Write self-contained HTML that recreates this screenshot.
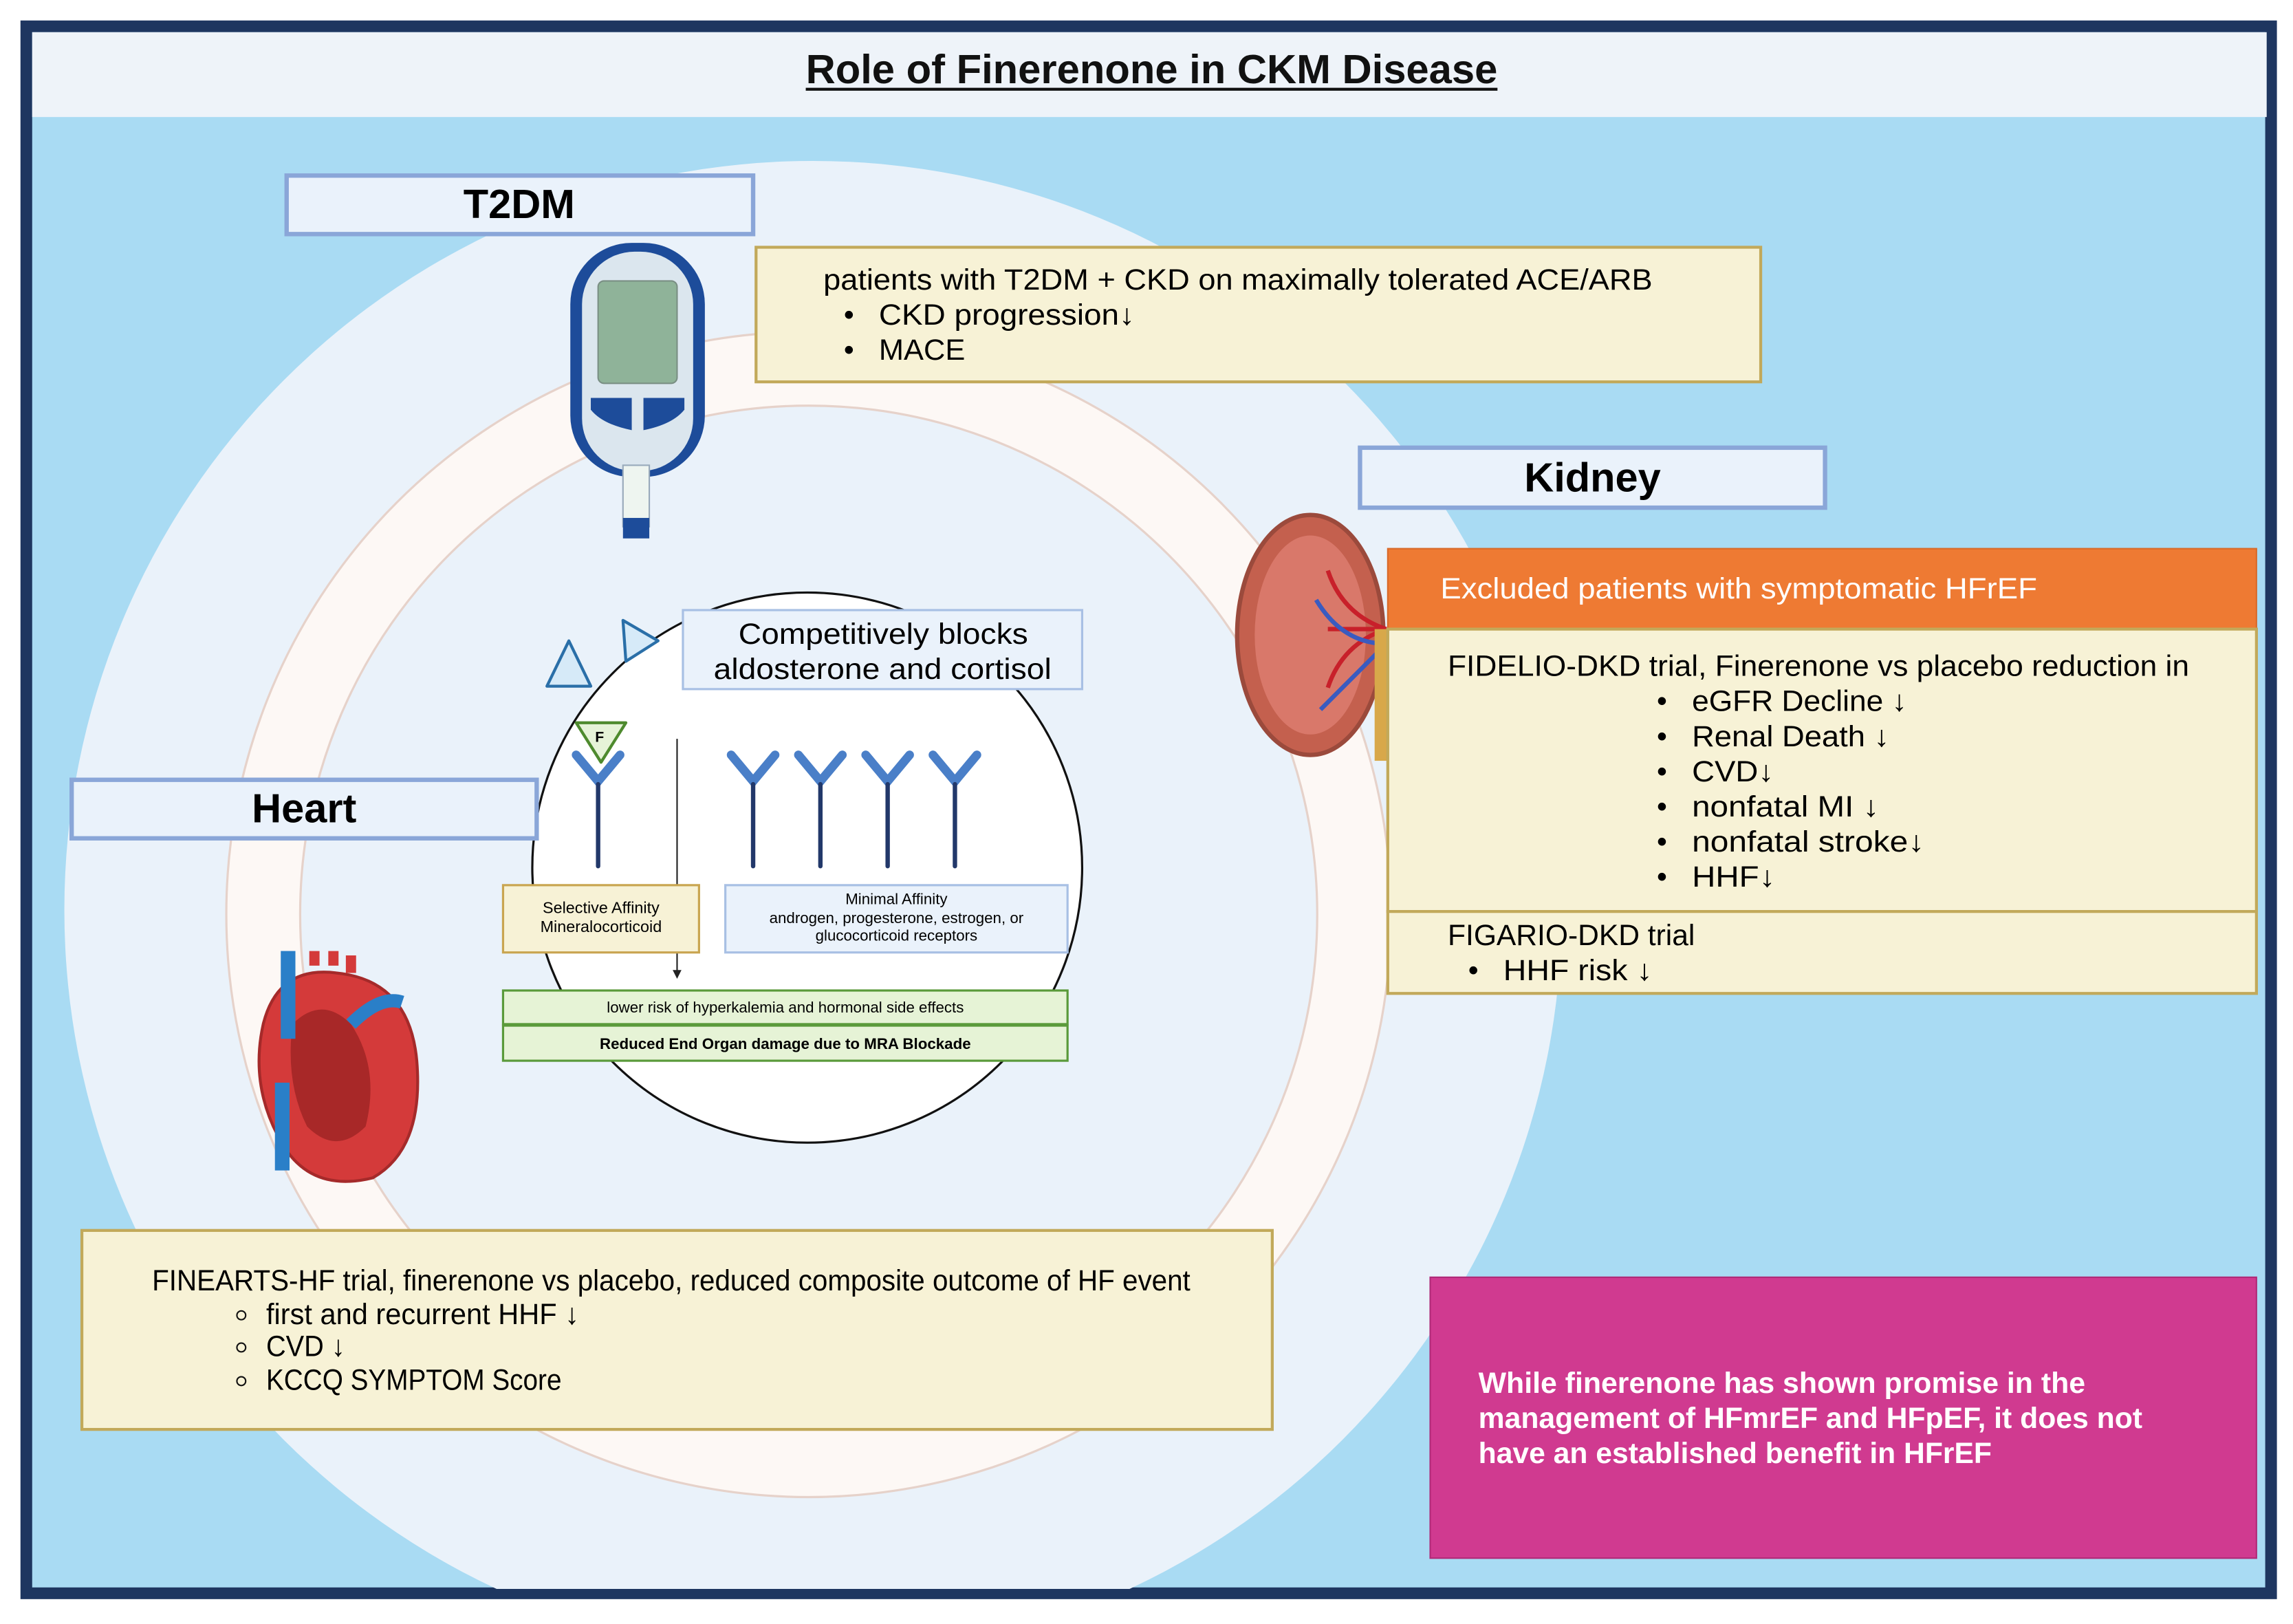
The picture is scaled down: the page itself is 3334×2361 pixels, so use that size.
<!DOCTYPE html>
<html><head><meta charset="utf-8"><style>
html,body{margin:0;padding:0;background:#fff;}
svg{display:block;}
text{font-family:"Liberation Sans",sans-serif;}
</style></head><body>
<svg width="3334" height="2361" viewBox="0 0 1568 1110" preserveAspectRatio="none" xmlns="http://www.w3.org/2000/svg">
<defs><clipPath id="bg"><rect x="22" y="80" width="1528" height="1006"/></clipPath></defs>
<rect x="0" y="0" width="1568" height="1110" fill="#fff"/>
<rect x="18" y="18" width="1535" height="1071" fill="#a9dbf3" stroke="#1e3660" stroke-width="8"/>
<rect x="22" y="22" width="1528" height="58" fill="#eef3f9"/>
<text x="551" y="57" font-size="28" font-weight="bold" fill="#111" textLength="473" lengthAdjust="spacingAndGlyphs">Role of Finerenone in CKM Disease</text>
<line x1="551" y1="61" x2="1024" y2="61" stroke="#111" stroke-width="2"/>
<g clip-path="url(#bg)">
<circle cx="556" cy="622" r="512" fill="#eaf2fa"/>
<circle cx="553" cy="625" r="373" fill="none" stroke="#e6d2ca" stroke-width="52"/>
<circle cx="553" cy="625" r="373" fill="none" stroke="#fdf8f5" stroke-width="49"/>
</g>
<circle cx="552" cy="593" r="188" fill="#fff" stroke="#111" stroke-width="1.5"/>
<!-- T2DM -->
<rect x="196" y="120" width="319" height="40" fill="#eaf2fb" stroke="#8aa6d8" stroke-width="3"/>
<text x="355" y="149" font-size="28" font-weight="bold" text-anchor="middle">T2DM</text>
<rect x="517" y="169" width="687" height="92" fill="#f7f2d6" stroke="#c2a95a" stroke-width="2"/>
<g font-size="20" lengthAdjust="spacingAndGlyphs">
<text x="563" y="198" textLength="567" lengthAdjust="spacingAndGlyphs">patients with T2DM + CKD on maximally tolerated ACE/ARB</text>
<text x="577" y="222">•</text><text x="601" y="222" textLength="175" lengthAdjust="spacingAndGlyphs">CKD progression↓</text>
<text x="577" y="246">•</text><text x="601" y="246" textLength="59" lengthAdjust="spacingAndGlyphs">MACE</text>
</g>
<!-- glucose meter -->
<rect x="390" y="166" width="92" height="160" rx="42" fill="#1d4c9a"/>
<rect x="398" y="172" width="76" height="150" rx="36" fill="#dbe6ee"/>
<rect x="409" y="192" width="54" height="70" rx="4" fill="#8fb399" stroke="#7a8f84"/>
<path d="M404 272 h28 v22 q-20 -4 -28 -14z" fill="#1d4c9a"/><path d="M440 272 h28 v8 q-8 10 -28 14z" fill="#1d4c9a"/>
<rect x="426" y="318" width="18" height="42" fill="#eef5f0" stroke="#9ab"/>
<rect x="426" y="354" width="18" height="14" fill="#1d4c9a"/>
<!-- Kidney -->
<rect x="930" y="306" width="318" height="41" fill="#eaf2fb" stroke="#8aa6d8" stroke-width="3"/>
<text x="1089" y="336" font-size="28" font-weight="bold" text-anchor="middle">Kidney</text>
<ellipse cx="896" cy="434" rx="50" ry="82" fill="#c4604e" stroke="#9b4a3c" stroke-width="3"/>
<ellipse cx="896" cy="434" rx="38" ry="68" fill="#d9786a"/>
<path d="M948 430 q-30 -10 -40 -40 M948 430 q-30 10 -40 40 M948 430 h-40" stroke="#c8202a" stroke-width="3" fill="none"/>
<path d="M948 440 q-30 0 -48 -30 M948 440 q-20 20 -45 45" stroke="#3a5bc0" stroke-width="3" fill="none"/>
<rect x="940" y="430" width="9" height="90" fill="#d8a84a"/>
<!-- Orange / FIDELIO / FIGARIO -->
<rect x="949" y="375" width="594" height="55" fill="#ee7a33" stroke="#d86a2a"/>
<text x="985" y="409" font-size="20" fill="#fff" textLength="408" lengthAdjust="spacingAndGlyphs">Excluded patients with symptomatic HFrEF</text>
<rect x="949" y="430" width="594" height="193" fill="#f7f2d6" stroke="#c2a95a" stroke-width="2"/>
<text x="990" y="462" font-size="20" textLength="507" lengthAdjust="spacingAndGlyphs">FIDELIO-DKD trial, Finerenone vs placebo reduction in</text>
<g font-size="20">
<text x="1133" y="486">•</text><text x="1157" y="486" textLength="147" lengthAdjust="spacingAndGlyphs">eGFR Decline ↓</text>
<text x="1133" y="510">•</text><text x="1157" y="510" textLength="135" lengthAdjust="spacingAndGlyphs">Renal Death ↓</text>
<text x="1133" y="534">•</text><text x="1157" y="534" textLength="56" lengthAdjust="spacingAndGlyphs">CVD↓</text>
<text x="1133" y="558">•</text><text x="1157" y="558" textLength="128" lengthAdjust="spacingAndGlyphs">nonfatal MI ↓</text>
<text x="1133" y="582">•</text><text x="1157" y="582" textLength="159" lengthAdjust="spacingAndGlyphs">nonfatal stroke↓</text>
<text x="1133" y="606">•</text><text x="1157" y="606" textLength="57" lengthAdjust="spacingAndGlyphs">HHF↓</text>
</g>
<rect x="949" y="623" width="594" height="56" fill="#f7f2d6" stroke="#c2a95a" stroke-width="2"/>
<text x="990" y="646" font-size="20" textLength="169" lengthAdjust="spacingAndGlyphs">FIGARIO-DKD trial</text>
<text x="1004" y="670" font-size="20">•</text><text x="1028" y="670" font-size="20" textLength="102" lengthAdjust="spacingAndGlyphs">HHF risk ↓</text>
<!-- Heart -->
<rect x="49" y="533" width="318" height="40" fill="#eaf2fb" stroke="#8aa6d8" stroke-width="3"/>
<text x="208" y="562" font-size="28" font-weight="bold" text-anchor="middle">Heart</text>
<path d="M180 700 q10 -40 50 -35 q50 5 55 60 q5 60 -30 80 q-40 10 -60 -20 q-25 -40 -15 -85z" fill="#d43a3a" stroke="#a52a2a" stroke-width="2"/>
<path d="M200 700 q20 -20 40 0 q20 30 10 70 q-20 20 -40 0 q-15 -30 -10 -70z" fill="#a82828"/>
<rect x="192" y="650" width="10" height="60" fill="#2a7fc8"/><rect x="188" y="740" width="10" height="60" fill="#2a7fc8"/>
<path d="M215 660 v-10 M228 660 v-10 M240 665 v-12" stroke="#d43a3a" stroke-width="7"/>
<path d="M240 700 q20 -20 35 -15" stroke="#2a7fc8" stroke-width="9" fill="none"/>
<!-- FINEARTS -->
<rect x="56" y="841" width="814" height="136" fill="#f7f2d6" stroke="#c2a95a" stroke-width="2"/>
<text x="104" y="882" font-size="20" textLength="710" lengthAdjust="spacingAndGlyphs">FINEARTS-HF trial, finerenone vs placebo, reduced composite outcome of HF event</text>
<g font-size="20">
<circle cx="165" cy="899" r="3" fill="none" stroke="#111"/><text x="182" y="905" textLength="214" lengthAdjust="spacingAndGlyphs">first and recurrent HHF ↓</text>
<circle cx="165" cy="921" r="3" fill="none" stroke="#111"/><text x="182" y="927" textLength="54" lengthAdjust="spacingAndGlyphs">CVD ↓</text>
<circle cx="165" cy="944" r="3" fill="none" stroke="#111"/><text x="182" y="950" textLength="202" lengthAdjust="spacingAndGlyphs">KCCQ SYMPTOM Score</text>
</g>
<!-- Magenta -->
<rect x="978" y="873" width="565" height="192" fill="#d03a90" stroke="#b02a78"/>
<g font-size="20" font-weight="bold" fill="#fff">
<text x="1011" y="952" textLength="415" lengthAdjust="spacingAndGlyphs">While finerenone has shown promise in the</text>
<text x="1011" y="976" textLength="454" lengthAdjust="spacingAndGlyphs">management of HFmrEF and HFpEF, it does not</text>
<text x="1011" y="1000" textLength="351" lengthAdjust="spacingAndGlyphs">have an established benefit in HFrEF</text>
</g>
<!-- Mechanism -->
<rect x="467" y="417" width="273" height="54" fill="#eaf2fb" stroke="#a8c0e4" stroke-width="1.5"/>
<text x="505" y="440" font-size="20" textLength="198" lengthAdjust="spacingAndGlyphs">Competitively blocks</text>
<text x="488" y="464" font-size="20" textLength="231" lengthAdjust="spacingAndGlyphs">aldosterone and cortisol</text>
<path d="M389 438 l15 31 h-30z" fill="#d6eaf8" stroke="#2a6fa8" stroke-width="2" stroke-linejoin="round"/>
<path d="M426 424 l24 14 l-22 14z" fill="#d6eaf8" stroke="#2a6fa8" stroke-width="2" stroke-linejoin="round"/>
<g stroke-linecap="round" fill="none">
<g stroke="#4a7fc8" stroke-width="6">
<path d="M394 516 l15 18 l15 -18"/><path d="M500 516 l15 18 l15 -18"/><path d="M546 516 l15 18 l15 -18"/><path d="M592 516 l15 18 l15 -18"/><path d="M638 516 l15 18 l15 -18"/>
</g>
<g stroke="#22386a" stroke-width="3">
<path d="M409 536 v56"/><path d="M515 536 v56"/><path d="M561 536 v56"/><path d="M607 536 v56"/><path d="M653 536 v56"/>
</g></g>
<path d="M394 494 h34 l-17 27z" fill="#e6f3d8" stroke="#4e8a2e" stroke-width="2" stroke-linejoin="round"/>
<text x="410" y="507" font-size="10" font-weight="bold" text-anchor="middle">F</text>
<line x1="463" y1="505" x2="463" y2="665" stroke="#222" stroke-width="1"/>
<path d="M460 663 l3 6 l3 -6z" fill="#222"/>
<rect x="344" y="605" width="134" height="46" fill="#f7f2d6" stroke="#c9a550" stroke-width="1.5"/>
<text x="411" y="624" font-size="11" text-anchor="middle">Selective Affinity</text>
<text x="411" y="637" font-size="11" text-anchor="middle">Mineralocorticoid</text>
<rect x="496" y="605" width="234" height="46" fill="#eaf2fb" stroke="#a8c0e4" stroke-width="1.5"/>
<text x="613" y="618" font-size="10.5" text-anchor="middle">Minimal Affinity</text>
<text x="613" y="631" font-size="10.5" text-anchor="middle">androgen, progesterone, estrogen, or</text>
<text x="613" y="643" font-size="10.5" text-anchor="middle">glucocorticoid receptors</text>
<rect x="344" y="677" width="386" height="23" fill="#e6f3d6" stroke="#5a9a3a" stroke-width="1.5"/>
<text x="537" y="692" font-size="10.5" text-anchor="middle">lower risk of hyperkalemia and hormonal side effects</text>
<rect x="344" y="701" width="386" height="24" fill="#e6f3d6" stroke="#5a9a3a" stroke-width="1.5"/>
<text x="537" y="717" font-size="10.5" font-weight="bold" text-anchor="middle">Reduced End Organ damage due to MRA Blockade</text>
</svg>
</body></html>
